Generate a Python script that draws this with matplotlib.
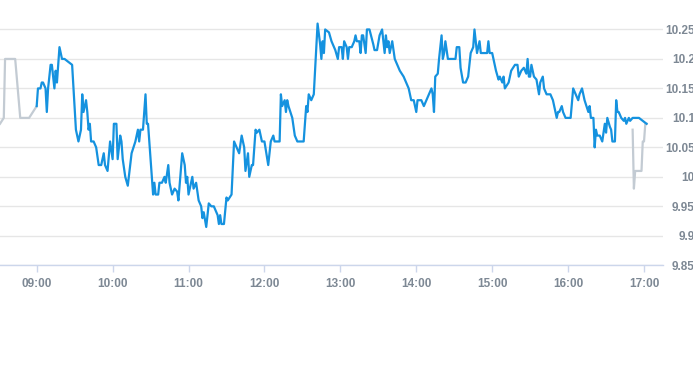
import numpy as np
import matplotlib.pyplot as plt

# minutes after 09:00 and last price
pre_minutes = [-29, -26, -25, -17, -13, -6, 0]
pre_prices = [10.09, 10.10, 10.20, 10.20, 10.10, 10.10, 10.12]

minutes = [0, 1, 3, 4, 5, 7, 8, 9, 11, 12, 14, 15, 16, 18, 20, 22, 25, 28, 31, 33,
           35, 36, 37, 39, 40, 41, 42, 43, 45, 47, 49, 51, 53, 54, 56, 58, 60, 61, 63, 64,
           66, 67, 68, 70, 72, 75, 78, 79, 80, 81, 82, 84, 86, 87, 88, 92, 93, 94, 96, 97,
           99, 101, 102, 104, 105, 107, 109, 111, 112, 115, 117, 118, 119, 120, 123, 124, 126, 128, 130, 131,
           132, 134, 136, 138, 140, 142, 143, 144, 145, 146, 148, 150, 151, 154, 156, 158, 160, 162, 164, 165,
           167, 168, 170, 171, 173, 174, 176, 177, 178, 180, 183, 185, 187, 188, 192, 193, 194, 196, 197, 198,
           199, 202, 204, 206, 211, 213, 214, 215, 217, 219, 221, 222, 224, 225, 226, 227, 228, 231, 233, 235,
           236, 238, 239, 241, 242, 243, 245, 246, 247, 249, 251, 252, 253, 255, 256, 257, 258, 260, 261, 263,
           266, 267, 269, 271, 273, 275, 276, 277, 278, 279, 281, 282, 283, 285, 287, 290, 292, 294, 295, 296,
           298, 300, 301, 304, 306, 308, 310, 312, 313, 314, 315, 317, 318, 320, 321, 322, 323, 325, 331, 332,
           334, 335, 337, 339, 341, 343, 344, 345, 346, 348, 350, 351, 354, 356, 357, 358, 360, 361, 363, 365,
           366, 368, 369, 370, 373, 375, 378, 380, 381, 383, 385, 387, 388, 389, 390, 391, 393, 395, 397, 398,
           400, 401, 403, 406, 408, 410, 411, 412, 413, 415, 416, 418, 422, 424, 426, 428, 429, 431, 432, 433,
           436, 437, 438, 440, 441, 442, 443, 445, 447, 449, 450, 451, 453, 454, 455, 457, 458, 459, 460, 462,
           464, 465, 466, 468, 469, 471, 476, 482]
prices = [10.12, 10.15, 10.15, 10.16, 10.16, 10.15, 10.11, 10.15, 10.19, 10.19, 10.15, 10.18, 10.16, 10.22, 10.20, 10.20, 10.195, 10.19, 10.08, 10.06,
          10.08, 10.14, 10.11, 10.13, 10.11, 10.08, 10.09, 10.06, 10.06, 10.05, 10.02, 10.02, 10.04, 10.02, 10.01, 10.06, 10.03, 10.09, 10.09, 10.03,
          10.07, 10.06, 10.03, 10.00, 9.985, 10.04, 10.06, 10.07, 10.08, 10.06, 10.08, 10.08, 10.14, 10.09, 10.09, 9.97, 9.99, 9.97, 9.97, 9.99,
          9.99, 10.00, 9.99, 10.02, 9.99, 9.97, 9.98, 9.975, 9.96, 10.04, 10.02, 9.99, 10.00, 9.97, 10.00, 9.98, 9.99, 9.96, 9.95, 9.93,
          9.94, 9.915, 9.955, 9.95, 9.95, 9.94, 9.935, 9.92, 9.935, 9.92, 9.92, 9.965, 9.96, 9.97, 10.06, 10.05, 10.04, 10.07, 10.05, 10.01,
          10.04, 10.00, 10.02, 10.02, 10.08, 10.075, 10.08, 10.07, 10.06, 10.06, 10.02, 10.06, 10.07, 10.06, 10.06, 10.14, 10.12, 10.13, 10.11, 10.13,
          10.12, 10.10, 10.07, 10.06, 10.06, 10.12, 10.11, 10.14, 10.13, 10.14, 10.22, 10.26, 10.225, 10.20, 10.23, 10.21, 10.25, 10.245, 10.23, 10.22,
          10.215, 10.20, 10.22, 10.22, 10.20, 10.23, 10.22, 10.20, 10.22, 10.22, 10.23, 10.24, 10.23, 10.23, 10.21, 10.24, 10.24, 10.21, 10.25, 10.25,
          10.225, 10.215, 10.215, 10.24, 10.25, 10.21, 10.24, 10.22, 10.23, 10.21, 10.23, 10.215, 10.20, 10.19, 10.18, 10.17, 10.16, 10.15, 10.14, 10.13,
          10.13, 10.11, 10.13, 10.13, 10.12, 10.13, 10.14, 10.15, 10.14, 10.11, 10.17, 10.175, 10.20, 10.24, 10.20, 10.21, 10.23, 10.20, 10.20, 10.22,
          10.22, 10.185, 10.16, 10.16, 10.17, 10.21, 10.215, 10.22, 10.25, 10.21, 10.23, 10.21, 10.21, 10.21, 10.23, 10.21, 10.21, 10.20, 10.18, 10.165,
          10.17, 10.16, 10.17, 10.15, 10.16, 10.18, 10.19, 10.19, 10.17, 10.18, 10.185, 10.175, 10.20, 10.17, 10.17, 10.19, 10.17, 10.165, 10.14, 10.16,
          10.17, 10.15, 10.14, 10.14, 10.13, 10.11, 10.10, 10.11, 10.11, 10.12, 10.11, 10.10, 10.10, 10.15, 10.14, 10.13, 10.14, 10.15, 10.14, 10.13,
          10.11, 10.12, 10.10, 10.10, 10.05, 10.08, 10.07, 10.07, 10.06, 10.09, 10.075, 10.10, 10.085, 10.08, 10.06, 10.06, 10.13, 10.11, 10.11, 10.10,
          10.095, 10.10, 10.09, 10.10, 10.095, 10.10, 10.10, 10.09]

post_minutes = [471, 472, 473, 478, 479, 480, 481, 482]
post_prices = [10.08, 9.98, 10.01, 10.01, 10.06, 10.06, 10.09, 10.09]

hour_ticks = np.arange(0, 481, 60)
hour_labels = [f"{9 + m // 60:02d}:00" for m in hour_ticks]
price_ticks = [9.85, 9.9, 9.95, 10, 10.05, 10.1, 10.15, 10.2, 10.25]
price_labels = ["9.85", "9.9", "9.95", "10", "10.05", "10.1", "10.15", "10.2", "10.25"]

label_color = "#7d8894"
axis_color = "#ccd6eb"

fig = plt.figure(figsize=(6.93, 3.65), dpi=100)
ax = fig.add_axes([0, 0.2732, 663 / 693, 0.6994])

ax.plot(pre_minutes, pre_prices, color="#c3cbd3", linewidth=1.6, solid_joinstyle="round")
ax.plot(post_minutes, post_prices, color="#c3cbd3", linewidth=1.6, solid_joinstyle="round")
ax.plot(minutes, prices, color="#1592df", linewidth=1.6, solid_joinstyle="round")

ax.set_xlim(-29, 495)
ax.set_ylim(9.85, 10.283)

for s in ["top", "left", "right"]:
    ax.spines[s].set_visible(False)
ax.spines["bottom"].set_color(axis_color)
ax.spines["bottom"].set_linewidth(1)

ax.set_xticks(hour_ticks)
ax.set_xticklabels(hour_labels)
ax.tick_params(axis="x", length=5, width=1, color=axis_color, pad=4,
               labelsize=8.5, labelcolor=label_color)

ax.yaxis.tick_right()
ax.set_yticks(price_ticks)
ax.set_yticklabels(price_labels)
ax.tick_params(axis="y", length=0, pad=23, labelsize=8.5, labelcolor=label_color)
for lbl in ax.get_yticklabels():
    lbl.set_horizontalalignment("right")
for lbl in ax.get_xticklabels() + ax.get_yticklabels():
    lbl.set_fontweight("bold")
    lbl.set_family("Liberation Sans")

ax.grid(axis="y", color="#e6e6e6", linewidth=1)
ax.set_axisbelow(True)

fig.savefig("out.png", dpi=100)
